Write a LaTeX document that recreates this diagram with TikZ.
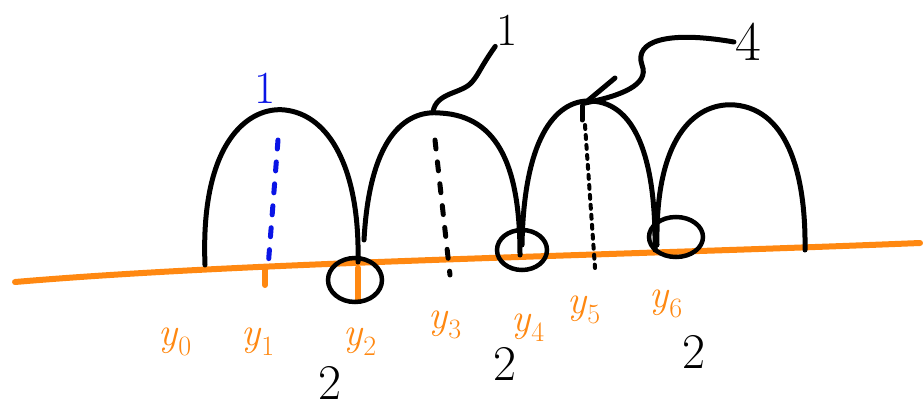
\documentclass[tikz,border=0pt]{standalone}
\usepackage{tikz}
\definecolor{pen}{RGB}{255,136,17}
\definecolor{bluepen}{RGB}{10,20,230}
\tikzstyle{ink}=[line width=5pt, line cap=round, line join=round]
\tikzstyle{lbl}=[inner sep=1pt, font=\fontsize{40}{42}\selectfont]
\newcommand{\lbl}{\node[lbl]}
\newcommand{\yy}[1]{\textit{y}\textsubscript{#1}}
\usetikzlibrary{calc,shapes.geometric}

\begin{document}
\begin{tikzpicture}[x=1pt, y=-1pt]
	\tikzstyle{base}=[ink, draw=pen, line width=6pt]
	\tikzstyle{arch}=[ink, draw=black]
	\tikzstyle{ring}=[ellipse, draw, line width=4.5pt, inner sep=0pt]
	\tikzstyle{peak}=[ink, dash pattern=on 9pt off 13pt]
	\useasboundingbox (0,0) rectangle (923,414);
	% Axe
	\draw[base] (15,282) .. controls (250,262) and (600,256) .. (920,243);
	\draw[base] (265,268) -- (265,285);
	\draw[base] (358,268) -- (358,300);
	% Arches
	\draw[arch] (205,265) .. controls (200,140) and (250,106) .. (285,110) .. controls (330,115) and (360,170) .. (358,262);
	\draw[arch] (364,240) .. controls (370,130) and (410,110) .. (440,113) .. controls (500,116) and (520,170) .. (520,255);
	\draw[arch] (522,245) .. controls (524,130) and (560,100) .. (590,101) .. controls (640,102) and (656,170) .. (655,250);
	\draw[arch] (657,245) .. controls (655,130) and (700,102) .. (735,105) .. controls (790,110) and (806,180) .. (805,250);
	% Sommets et pieds
	\coordinate (p1) at (278,140);
	\coordinate (f1) at (268,268);
	\coordinate (p2) at (435,140);
	\coordinate (f2) at (450,275);
	\coordinate (p3) at (585,125);
	\coordinate (f3) at (595,268);
	\coordinate (t2) at (433,112);
	\coordinate (t3) at (585,103);
	\draw[peak, draw=bluepen] (p1) -- (f1);
	\draw[peak] (p2) -- (f2);
	\draw[ink, dash pattern=on 4pt off 6pt, line width=4pt] (p3) -- (f3);
	% Cercles
	\node[ring, minimum width=54pt, minimum height=44pt] (c2) at (355,280) {};
	\node[ring, minimum width=50pt, minimum height=40pt] (c4) at (522,250) {};
	\node[ring, minimum width=54pt, minimum height=40pt] (c6) at (676,237) {};
	% Valeurs en haut
	\lbl[text=bluepen, font=\fontsize{46}{48}\selectfont] (h1) at (265,88) {1};
	\lbl[font=\fontsize{46}{48}\selectfont] (h2) at (507,30) {1};
	\lbl[font=\fontsize{56}{58}\selectfont] (h4) at (748,42) {4};
	\draw[ink] (t2) .. controls (436,92) and (462,94) .. (472,82) .. controls (479,74) and (480,68) .. (h2.south west);
	\draw[ink] (t3) .. controls (620,96) and (650,85) .. (642,65) .. controls (634,42) and (665,30) .. (h4.west);
	\draw[ink] (t3) -- (615,78);
	\draw[ink] (582,106) -- (582,120);
	% Points y
	\lbl[text=pen] (y0) at (175,342) {\yy{0}};
	\lbl[text=pen] (y1) at (258,342) {\yy{1}};
	\lbl[text=pen] (y2) at (360,342) {\yy{2}};
	\lbl[text=pen] (y3) at (445,325) {\yy{3}};
	\lbl[text=pen] (y4) at (528,328) {\yy{4}};
	\lbl[text=pen] (y5) at (584,310) {\yy{5}};
	\lbl[text=pen] (y6) at (666,304) {\yy{6}};
	% Multiplicites
	\lbl[font=\fontsize{50}{52}\selectfont] (m2) at (330,383) {2};
	\lbl[font=\fontsize{50}{52}\selectfont] (m4) at (505,364) {2};
	\lbl[font=\fontsize{50}{52}\selectfont] (m6) at (694,352) {2};
\end{tikzpicture}
\end{document}
